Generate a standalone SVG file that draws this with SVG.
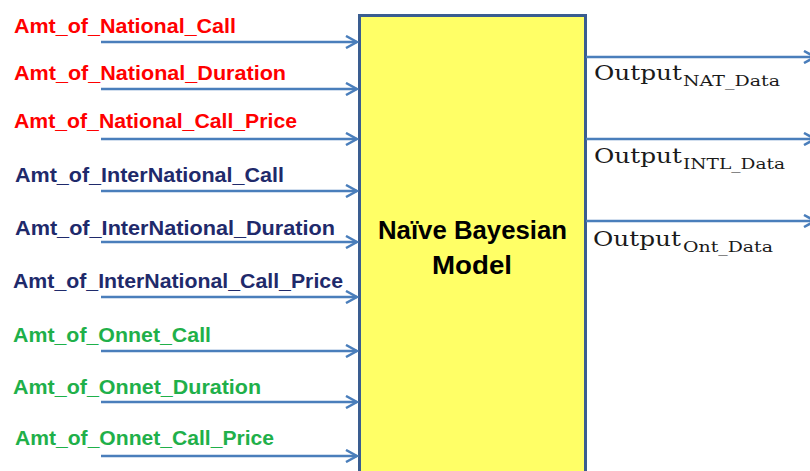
<svg xmlns="http://www.w3.org/2000/svg" width="810" height="471" viewBox="0 0 810 471">
  <style>
    .lbl { font-family: "Liberation Sans", Arial, sans-serif; font-weight: bold; font-size: 20px; }
    .red { fill: #ff0000; }
    .navy { fill: #1f2a6b; }
    .green { fill: #1fb04a; }
    .conn { stroke: #4a7ebb; stroke-width: 2.5; fill: none; }
    .box { fill: #ffff66; stroke: #3a5d90; stroke-width: 3; }
    .title { font-family: "Liberation Sans", Arial, sans-serif; font-weight: bold; font-size: 25px; fill: #000000; }
    .out { font-family: "DejaVu Serif", "Liberation Serif", serif; fill: #1a1a1a; }
  </style>
  <defs>
    <marker id="arr" viewBox="0 0 14 14" refX="12.5" refY="7" markerWidth="14" markerHeight="14" markerUnits="userSpaceOnUse" orient="auto">
      <path d="M1.5,1 L12.5,7 L1.5,13" fill="none" stroke="#4a7ebb" stroke-width="2.5"/>
    </marker>
  </defs>
  <rect width="810" height="471" fill="#ffffff"/>

  <g id="model">
    <rect class="box" x="359.5" y="15.5" width="226" height="470"/>
    <text class="title" x="472.5" y="239" text-anchor="middle" textLength="189" lengthAdjust="spacingAndGlyphs">Naïve Bayesian</text>
    <text class="title" x="472" y="274" text-anchor="middle" textLength="80" lengthAdjust="spacingAndGlyphs">Model</text>
  </g>

  <g id="connectors">
    <line class="conn" x1="101" y1="42" x2="357" y2="42" marker-end="url(#arr)"/>
    <line class="conn" x1="101" y1="89" x2="357" y2="89" marker-end="url(#arr)"/>
    <line class="conn" x1="101" y1="139" x2="357" y2="139" marker-end="url(#arr)"/>
    <line class="conn" x1="101" y1="191" x2="357" y2="191" marker-end="url(#arr)"/>
    <line class="conn" x1="101" y1="242" x2="357" y2="242" marker-end="url(#arr)"/>
    <line class="conn" x1="101" y1="297" x2="357" y2="297" marker-end="url(#arr)"/>
    <line class="conn" x1="101" y1="351" x2="357" y2="351" marker-end="url(#arr)"/>
    <line class="conn" x1="101" y1="402" x2="357" y2="402" marker-end="url(#arr)"/>
    <line class="conn" x1="101" y1="456" x2="357" y2="456" marker-end="url(#arr)"/>
    <line class="conn" x1="586" y1="57" x2="815" y2="57" marker-end="url(#arr)"/>
    <line class="conn" x1="586" y1="139" x2="815" y2="139" marker-end="url(#arr)"/>
    <line class="conn" x1="586" y1="221" x2="815" y2="221" marker-end="url(#arr)"/>
  </g>

  <g id="in-nat-call"><text class="lbl red" x="14" y="33" textLength="222" lengthAdjust="spacingAndGlyphs">Amt_of_National_Call</text></g>
  <g id="in-nat-duration"><text class="lbl red" x="14" y="80" textLength="272" lengthAdjust="spacingAndGlyphs">Amt_of_National_Duration</text></g>
  <g id="in-nat-price"><text class="lbl red" x="14" y="128" textLength="283" lengthAdjust="spacingAndGlyphs">Amt_of_National_Call_Price</text></g>
  <g id="in-intl-call"><text class="lbl navy" x="15" y="182" textLength="269" lengthAdjust="spacingAndGlyphs">Amt_of_InterNational_Call</text></g>
  <g id="in-intl-duration"><text class="lbl navy" x="15" y="235" textLength="320" lengthAdjust="spacingAndGlyphs">Amt_of_InterNational_Duration</text></g>
  <g id="in-intl-price"><text class="lbl navy" x="13" y="288" textLength="330" lengthAdjust="spacingAndGlyphs">Amt_of_InterNational_Call_Price</text></g>
  <g id="in-onnet-call"><text class="lbl green" x="13" y="342" textLength="198" lengthAdjust="spacingAndGlyphs">Amt_of_Onnet_Call</text></g>
  <g id="in-onnet-duration"><text class="lbl green" x="13" y="394" textLength="248" lengthAdjust="spacingAndGlyphs">Amt_of_Onnet_Duration</text></g>
  <g id="in-onnet-price"><text class="lbl green" x="15" y="445" textLength="259" lengthAdjust="spacingAndGlyphs">Amt_of_Onnet_Call_Price</text></g>

  <g id="out-nat">
    <text class="out" x="594" y="80" font-size="21" textLength="88" lengthAdjust="spacingAndGlyphs">Output</text>
    <text class="out" x="683" y="86" font-size="15" textLength="97" lengthAdjust="spacingAndGlyphs">NAT_Data</text>
  </g>
  <g id="out-intl">
    <text class="out" x="594" y="163" font-size="21" textLength="88" lengthAdjust="spacingAndGlyphs">Output</text>
    <text class="out" x="683" y="169" font-size="15" textLength="102" lengthAdjust="spacingAndGlyphs">INTL_Data</text>
  </g>
  <g id="out-ont">
    <text class="out" x="593" y="246" font-size="21" textLength="88" lengthAdjust="spacingAndGlyphs">Output</text>
    <text class="out" x="683" y="252" font-size="15" textLength="90" lengthAdjust="spacingAndGlyphs">Ont_Data</text>
  </g>
</svg>
